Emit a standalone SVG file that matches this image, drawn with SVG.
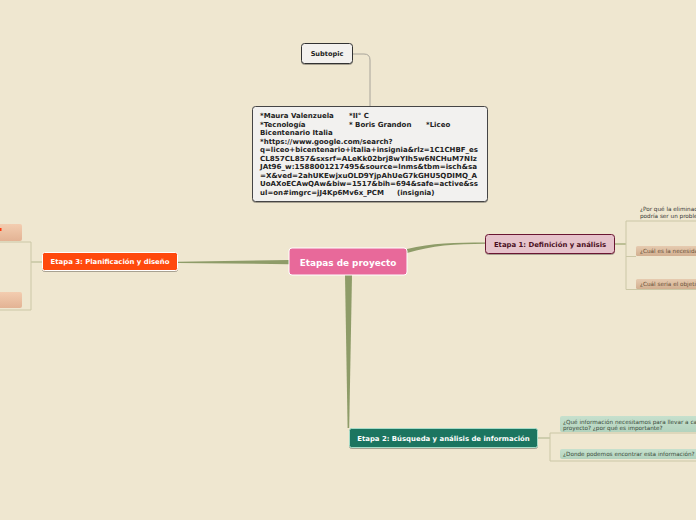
<svg xmlns="http://www.w3.org/2000/svg" width="696" height="520" viewBox="0 0 696 520">
<defs>
<linearGradient id="gTan" x1="0" y1="0" x2="0" y2="1"><stop offset="0" stop-color="#E6CBB0"/><stop offset="1" stop-color="#D2AF90"/></linearGradient>
<linearGradient id="gPeach" x1="0" y1="0" x2="0" y2="1"><stop offset="0" stop-color="#F3CDB0"/><stop offset="1" stop-color="#E3B394"/></linearGradient>
<linearGradient id="gGreen" x1="0" y1="0" x2="0" y2="1"><stop offset="0" stop-color="#C6E0CD"/><stop offset="1" stop-color="#B3D3BE"/></linearGradient>
<filter id="sh" x="-10%" y="-20%" width="120%" height="150%"><feDropShadow dx="0" dy="1" stdDeviation="0.6" flood-color="#000" flood-opacity="0.3"/></filter>
</defs>
<style>
text{font-family:"DejaVu Sans","Liberation Sans",sans-serif}
.b{font-weight:bold}
.br{fill:none;stroke:#CBC7A6;stroke-width:1}
.tp{fill:#8E9C68}
.note{font-size:7px;font-weight:bold;fill:#222}
.sm{font-size:5.7px}
</style>
<rect width="696" height="520" fill="#EFE7D0"/>

<g id="connectors">
  <path d="M352,54 H364 Q370,54 370,60 V106" fill="none" stroke="#A8A49A" stroke-width="1"/>
  <path class="tp" d="M407,249 C432,243 455,242.5 485,242.5 L485,243.8 C455,244 432,245.5 407,253 Z"/>
  <path class="tp" d="M289,260 L178,261.7 L178,263 L289,264.2 Z"/>
  <path class="tp" d="M345,275 L352,275 L349.2,428 L347.6,428 Z"/>
  <path d="M615,244 H626" stroke="#9AA56E" stroke-width="1.2" fill="none"/>
  <path class="br" d="M696,221 H626 V289.5 H696 M626,256.5 H636"/>
  <path d="M538,438 H550" stroke="#B8BC96" stroke-width="1.2" fill="none"/>
  <path class="br" d="M696,433 H550 V461 H696"/>
  <path d="M42,262 H31" stroke="#BBBE98" stroke-width="1.2" fill="none"/>
  <path class="br" d="M0,242 H31 V310 H0"/>
</g>

<g id="center">
  <rect x="289" y="248" width="118" height="27" rx="3" fill="#E8699A" stroke="#FFFFFF" stroke-width="1"/>
  <text x="348" y="265.5" text-anchor="middle" class="b" font-size="8.9" fill="#FFFFFF">Etapas de proyecto</text>
</g>

<g id="subtopic">
  <rect x="301.5" y="43.5" width="51" height="20" rx="3" fill="#F3F1EE" stroke="#333" stroke-width="1" filter="url(#sh)"/>
  <text x="327" y="56" text-anchor="middle" class="b" font-size="6.6" fill="#222">Subtopic</text>
</g>

<g id="note">
  <rect x="252.5" y="106.5" width="235" height="95" rx="3" fill="#F2F1EF" stroke="#444" stroke-width="1" filter="url(#sh)"/>
  <text class="note" x="260" y="118">*Maura Valenzuela</text>
  <text class="note" x="349" y="118">*II° C</text>
  <text class="note" x="260" y="126.5">*Tecnología</text>
  <text class="note" x="349" y="126.5">* Boris Grandon</text>
  <text class="note" x="426" y="126.5">*Liceo</text>
  <text class="note" x="260" y="135">Bicentenario Italia</text>
  <text class="note" x="260" y="143.5">*https://www.google.com/search?</text>
  <text class="note" x="260" y="152" textLength="218" lengthAdjust="spacingAndGlyphs">q=liceo+bicentenario+italia+insignia&amp;rlz=1C1CHBF_es</text>
  <text class="note" x="260" y="160.5" textLength="217" lengthAdjust="spacingAndGlyphs">CL857CL857&amp;sxsrf=ALeKk02brj8wYIh5w6NCHuM7NIz</text>
  <text class="note" x="260" y="169" textLength="217" lengthAdjust="spacingAndGlyphs">JAt96_w:1588001217495&amp;source=lnms&amp;tbm=isch&amp;sa</text>
  <text class="note" x="260" y="177.5" textLength="217" lengthAdjust="spacingAndGlyphs">=X&amp;ved=2ahUKEwjxuOLD9YjpAhUeG7kGHU5QDIMQ_A</text>
  <text class="note" x="260" y="186" textLength="218" lengthAdjust="spacingAndGlyphs">UoAXoECAwQAw&amp;biw=1517&amp;bih=694&amp;safe=active&amp;ss</text>
  <text class="note" x="260" y="194.5">ul=on#imgrc=jJ4Kp6Mv6x_PCM</text>
  <text class="note" x="397" y="194.5">(insignia)</text>
</g>

<g id="etapa1">
  <rect x="485.5" y="234.5" width="129" height="19" rx="3" fill="#E6C3CB" stroke="#6A1530" stroke-width="1" filter="url(#sh)"/>
  <text x="550" y="246.7" text-anchor="middle" class="b" font-size="6.9" fill="#4A0F22">Etapa 1: Definición y análisis</text>
</g>
<g id="e1c1">
  <text class="sm" x="640" y="211" fill="#333">¿Por qué la eliminación</text>
  <text class="sm" x="640" y="218" fill="#333">podría ser un problema</text>
</g>
<g id="e1c2">
  <rect x="636" y="246" width="62" height="10" rx="1.5" fill="url(#gTan)"/>
  <text class="sm" x="640" y="253" fill="#6A5038">¿Cuál es la necesidad</text>
</g>
<g id="e1c3">
  <rect x="636" y="279" width="62" height="10" rx="1.5" fill="url(#gTan)"/>
  <text class="sm" x="640" y="286" fill="#6A5038">¿Cuál sería el objetivo</text>
</g>

<g id="etapa2">
  <rect x="349.5" y="428.5" width="188" height="19" rx="2" fill="#1D7460" stroke="#A7DCC8" stroke-width="1" filter="url(#sh)"/>
  <text x="443.5" y="440.7" text-anchor="middle" class="b" font-size="6.9" fill="#FFFFFF">Etapa 2: Búsqueda y análisis de información</text>
</g>
<g id="e2c1">
  <rect x="560" y="416" width="140" height="16" rx="2" fill="url(#gGreen)"/>
  <text class="sm" x="563" y="424" fill="#3A4A3A">¿Qué información necesitamos para llevar a cabo</text>
  <text class="sm" x="563" y="430" fill="#3A4A3A">proyecto? ¿por qué es importante?</text>
</g>
<g id="e2c2">
  <rect x="560" y="449" width="140" height="10" rx="2" fill="url(#gGreen)"/>
  <text class="sm" x="563" y="456" fill="#3A4A3A">¿Donde podemos encontrar esta información?</text>
</g>

<g id="etapa3">
  <rect x="42.5" y="252.5" width="135" height="18" rx="2" fill="#FF4A0A" stroke="#FFFFFF" stroke-width="1" filter="url(#sh)"/>
  <text x="110" y="264.2" text-anchor="middle" class="b" font-size="6.9" fill="#FFFFFF">Etapa 3: Planificación y diseño</text>
</g>
<g id="e3c1">
  <rect x="-4" y="224" width="26" height="17" rx="2" fill="url(#gPeach)"/>
  <rect x="0" y="228" width="1.5" height="3" fill="#FF3A10"/>
</g>
<g id="e3c2">
  <rect x="-4" y="292" width="26" height="16" rx="2" fill="url(#gPeach)"/>
</g>
</svg>
